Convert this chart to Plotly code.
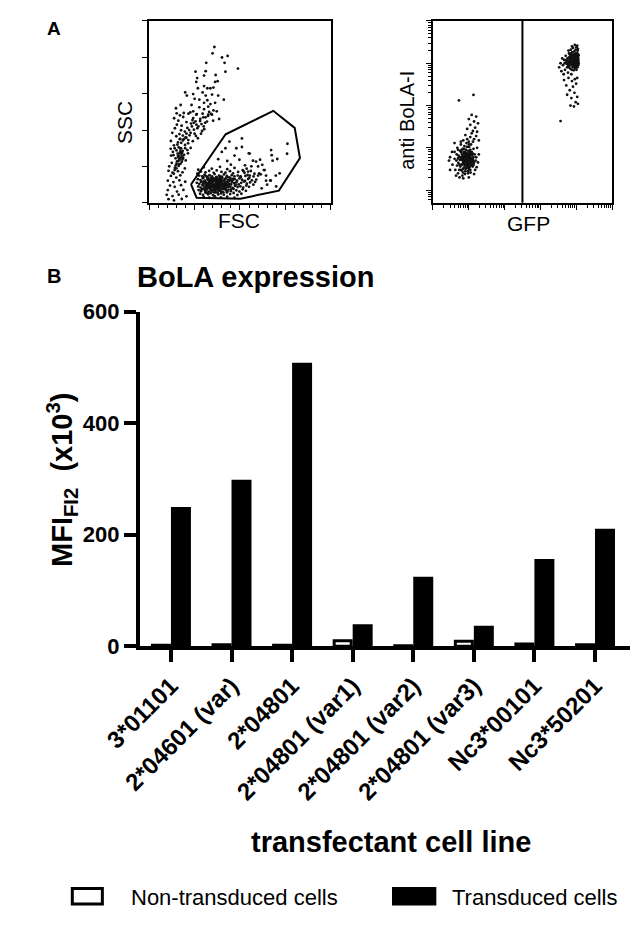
import plotly.graph_objects as go

# ---- panel A (left): FSC / SSC dot plot ----
debris = [
    (359, 857), (349, 822), (401, 799), (432, 808), (415, 770), (489, 738), (420, 721), (314, 770),
    (255, 721), (311, 724), (366, 703), (302, 700), (264, 686), (259, 665), (377, 669), (363, 665),
    (320, 630), (268, 630), (302, 642), (337, 630), (354, 634), (198, 607), (242, 598), (294, 607),
    (311, 590), (346, 595), (380, 590), (207, 590), (411, 567), (276, 567), (250, 572), (320, 564),
    (302, 550), (337, 543), (363, 550), (173, 538), (147, 520), (233, 538), (276, 525), (302, 515),
    (325, 529), (354, 508), (372, 503), (242, 503), (216, 490), (190, 494), (259, 485), (294, 490),
    (325, 485), (346, 485),
    (151, 492), (169, 481), (226, 497), (262, 488), (298, 470), (341, 489), (137, 465), (187, 472),
    (238, 455), (281, 462), (324, 478), (160, 452), (205, 444), (255, 448), (308, 440), (352, 452),
    (318, 447), (385, 461), (152, 430), (178, 424), (230, 436), (271, 420), (288, 433), (242, 466),
    (141, 410), (175, 399), (210, 412), (246, 402), (291, 395), (303, 405), (127, 385), (166, 378),
    (196, 392), (222, 371), (268, 355), (149, 366), (171, 352), (204, 358), (257, 368), (119, 340),
    (158, 332), (185, 343), (214, 327), (240, 339), (136, 316), (162, 305), (197, 318), (228, 302),
    (118, 297), (150, 288), (171, 299), (184, 285), (168, 276), (177, 268), (181, 256), (133, 262),
    (156, 271), (192, 264), (213, 272), (187, 247), (166, 236), (179, 226), (145, 245), (161, 249),
    (183, 238), (201, 233), (124, 220), (153, 228), (172, 215), (110, 201), (141, 192), (162, 203),
    (196, 189), (106, 176), (128, 166), (158, 174), (183, 168), (119, 148), (149, 139), (171, 151),
    (102, 122), (133, 114), (166, 124), (198, 116), (114, 95), (140, 88), (175, 97), (102, 70),
    (153, 62), (188, 71), (96, 44), (128, 37), (162, 45), (205, 36), (106, 20), (136, 13), (179, 21),
    (172, 285), (175, 300), (165, 260), (170, 245), (160, 230), (150, 215), (163, 212), (178, 250),
    (181, 275), (158, 258), (145, 205), (140, 180), (135, 160), (150, 190), (176, 330), (190, 350),
    (205, 380), (220, 400), (235, 420), (245, 440), (260, 430), (200, 360), (215, 345), (228, 385),
    (265, 410), (280, 450), (300, 420), (310, 470), (330, 500), (285, 380), (250, 380), (140, 300),
    (130, 280), (120, 260), (155, 320), (168, 350), (185, 370), (198, 300), (210, 290),
]

cells = [
    (300, 195), (345, 188), (390, 198), (430, 185), (470, 192), (515, 180), (270, 182), (560, 175),
    (285, 172), (310, 168), (330, 176), (355, 165), (372, 178), (398, 170), (420, 166), (445, 174),
    (462, 162), (490, 170), (525, 165), (545, 172), (580, 160), (265, 160),
    (275, 150), (292, 145), (305, 155), (318, 142), (332, 152), (346, 146), (360, 158), (371, 141),
    (385, 150), (400, 144), (412, 156), (428, 148), (440, 140), (455, 152), (470, 145), (488, 150),
    (505, 142), (530, 148), (552, 138), (575, 145), (600, 150),
    (268, 130), (282, 125), (296, 135), (307, 122), (320, 132), (331, 126), (343, 138), (352, 121),
    (364, 130), (376, 124), (388, 136), (397, 127), (409, 121), (420, 133), (433, 126), (446, 137),
    (458, 124), (471, 130), (484, 122), (497, 134), (512, 127), (528, 120), (545, 131), (566, 124),
    (590, 128),
    (262, 110), (276, 104), (289, 116), (300, 107), (311, 113), (322, 102), (333, 118), (341, 106),
    (350, 112), (359, 101), (368, 116), (377, 108), (386, 103), (395, 114), (404, 106), (414, 118),
    (423, 101), (434, 111), (445, 104), (456, 116), (468, 108), (480, 113), (493, 102), (507, 110),
    (522, 117), (538, 105), (556, 112), (574, 100),
    (270, 90), (283, 84), (294, 96), (304, 88), (314, 93), (323, 82), (331, 98), (339, 87),
    (347, 92), (355, 81), (363, 95), (371, 86), (379, 91), (387, 83), (396, 97), (405, 88),
    (414, 93), (424, 84), (435, 96), (447, 89), (460, 82), (473, 94), (487, 87), (502, 91),
    (518, 84), (535, 95), (550, 88),
    (272, 70), (285, 64), (297, 76), (308, 67), (318, 73), (328, 62), (337, 78), (346, 68),
    (355, 74), (364, 63), (373, 77), (382, 66), (391, 72), (401, 61), (412, 75), (424, 68),
    (437, 73), (450, 64), (465, 77), (480, 69), (497, 62), (515, 74), (533, 66),
    (280, 50), (296, 44), (310, 56), (324, 47), (338, 53), (352, 42), (366, 58), (380, 46),
    (395, 52), (411, 45), (428, 57), (446, 48), (465, 54), (486, 43), (508, 50),
    (300, 32), (330, 28), (362, 36), (395, 30), (430, 34), (470, 28),
    (326, 110), (344, 97), (358, 125), (372, 100), (386, 118), (338, 72), (352, 88), (366, 104),
    (380, 76), (394, 92), (318, 85), (332, 115), (347, 128), (361, 80), (375, 135), (389, 110),
    (403, 78), (312, 100), (327, 93), (341, 120), (356, 70), (370, 93), (384, 128), (398, 101),
    (308, 78), (323, 126), (369, 73), (383, 99), (397, 121), (411, 89),
    (303, 118), (315, 96), (326, 138), (335, 84), (342, 109), (349, 133), (357, 94), (363, 119),
    (369, 141), (374, 83), (381, 113), (388, 95), (393, 131), (401, 108), (407, 84), (415, 127),
    (422, 99), (429, 115), (436, 87), (443, 122), (451, 101), (461, 131), (476, 98), (310, 61),
    (321, 54), (344, 60), (359, 57), (377, 56), (392, 66), (408, 58), (419, 80), (431, 62),
    (452, 74), (299, 142), (314, 147), (329, 105), (353, 99), (378, 120), (389, 144), (403, 137),
    (417, 108), (426, 140), (439, 103), (448, 131), (290, 75), (296, 102), (286, 115), (334, 90),
    (346, 115), (365, 85), (392, 79), (410, 100), (366, 127), (340, 130), (317, 108), (355, 135),
    (383, 87), (398, 112), (420, 90),
    (511, 354), (549, 272), (497, 237), (762, 325), (672, 290), (675, 262), (706, 241), (680, 232),
    (611, 237), (589, 227), (572, 232), (623, 209), (636, 180), (615, 157), (644, 150), (698, 150),
    (670, 122), (644, 122), (584, 115), (511, 307), (537, 188), (554, 150), (528, 206), (563, 201),
    (542, 153), (520, 174), (503, 145), (442, 337), (554, 271), (719, 162), (667, 124), (632, 180),
    (606, 162), (470, 260), (430, 230), (400, 280), (450, 210), (380, 240), (600, 200), (650, 100),
    (700, 90), (620, 80), (480, 300), (420, 300), (760, 270),
]

gate_fsc = [230, 421, 684, 802, 831, 715, 503, 261, 230]
gate_ssc = [101, 377, 506, 412, 246, 67, 23, 28, 101]

# ---- panel A (right): GFP / anti BoLA-I ----
gfp_negative = [
    (13.5, 178), (5.3, 132), (12, 60), (16, 55), (10, 48), (14, 42), (18, 38), (11, 35), (15, 30),
    (9, 28), (13, 25), (17, 24), (12, 22), (8, 20), (16, 19), (11, 18), (14, 16), (19, 15), (7, 15),
    (10, 14),
    (3, 6), (3.5, 4), (4, 8), (4.2, 3), (4.5, 5), (4.8, 10), (5, 2.5), (5.2, 6.5), (5.5, 4), (5.7, 8.5),
    (6, 3), (6, 12), (6.2, 5.2), (6.5, 7), (6.6, 2.2), (6.8, 9.5), (7, 4.5), (7.1, 6), (7.3, 3.4),
    (7.5, 11), (7.6, 5), (7.8, 7.5), (8, 2.8), (8, 6.2), (8.2, 4), (8.3, 9), (8.5, 5.5), (8.6, 13),
    (8.8, 3.5), (9, 7), (9.1, 4.8), (9.3, 6), (9.5, 2.5), (9.6, 8.5), (9.8, 5), (10, 3.8), (10.2, 10.5),
    (10.4, 6.5), (10.6, 4.5), (10.8, 7.8), (11, 3), (11.3, 5.8), (11.5, 12), (11.8, 4.2), (12, 8),
    (12.4, 6.8), (12.8, 3.6), (13, 5), (13.5, 9.5), (14, 4.5), (14.5, 7), (15, 3), (16, 6), (17, 10),
    (18, 4.5), (4, 5.5), (4.6, 7), (5, 9), (5.4, 3), (5.9, 6), (6.3, 4), (6.8, 5), (7.2, 8), (7.7, 3.8),
    (8.1, 5), (8.4, 7), (8.9, 4.5), (9.2, 5.5), (9.7, 6.8), (10.1, 4.2), (10.5, 5.6), (11, 9), (11.6, 5),
    (12.2, 4), (12.6, 7.5), (13.4, 6), (7, 5.5), (7.9, 6.6), (8.7, 6), (9.4, 4), (10.3, 8), (6.4, 9),
    (5.6, 5.2), (9.9, 3.2), (8.2, 3.2), (6.9, 2.6), (11.2, 2.6), (4.4, 2.2), (3.4, 8), (2.8, 5),
    (15.5, 5), (19, 7), (13, 14), (9, 16), (6, 14), (4, 13), (5.5, 2), (10, 2), (14, 2.4), (7, 1.9),
    (3, 3), (16.5, 3.5),
    (5.1, 4.4), (5.4, 6.1), (5.8, 3.6), (6.1, 7.8), (6.3, 5.6), (6.6, 4.1), (6.7, 6.4), (7, 3.2),
    (7.2, 5), (7.4, 7), (7.5, 4.2), (7.7, 6.1), (7.9, 4.6), (8, 8), (8.2, 5.4), (8.4, 3.9), (8.5, 6.6),
    (8.7, 4.9), (8.9, 7.4), (9, 3.4), (9.2, 6.2), (9.3, 4.3), (9.5, 5.3), (9.7, 3.7), (9.9, 6.1),
    (10, 4.9), (10.2, 7.2), (10.4, 3.5), (10.7, 5.2), (10.9, 6.1), (11.1, 4.4), (11.4, 7), (11.7, 3.8),
    (12, 5.6), (12.3, 4.7), (7.3, 9.5), (8.8, 10.5), (10, 12), (6, 8.5), (5, 5.6), (4.7, 3.8),
    (6.4, 2.9), (9.6, 2.8), (12.8, 5.4), (13.6, 4), (7.8, 2.4), (11, 6.7), (8.3, 5.9), (9, 5.2),
    (7.6, 5.8),
]

gfp_positive = [
    (4200, 900), (4500, 1200), (4800, 700), (5000, 1500), (5200, 1000), (5500, 800), (5600, 1300),
    (5800, 600), (6000, 1100), (6200, 1700), (6300, 900), (6500, 1400), (6700, 750), (6800, 1050),
    (7000, 1250), (7200, 550), (7300, 1600), (7500, 950), (7700, 1150), (7900, 800), (8000, 1450),
    (8200, 1000), (8400, 680), (8500, 1250), (8700, 1900), (8800, 880), (9000, 1100), (9200, 1550),
    (9300, 760), (9500, 1300), (9600, 980), (9800, 1700), (10000, 1150), (10200, 850), (10400, 1400),
    (10600, 1050), (10800, 2000), (11000, 1250), (11200, 900), (11400, 1550), (5300, 1200), (5900, 850),
    (6400, 1200), (6900, 1500), (7400, 700), (7800, 1350), (8300, 1150), (8900, 1350), (9400, 1050),
    (9900, 1250), (10500, 1650), (11100, 1050), (6100, 1000), (7100, 1000), (8100, 1250), (9100, 900),
    (10100, 1000), (10900, 1450), (6600, 1600), (7600, 1800), (8600, 1500), (9700, 1450), (4700, 1000),
    (5700, 1050), (4000, 1300), (3600, 1000), (3300, 800), (3800, 650), (4400, 550),
    (9000, 2700), (10000, 2400), (11000, 2200), (8000, 2300), (7000, 2100), (9500, 2100), (6000, 2000),
    (10500, 2600), (7500, 2500),
    (4500, 400), (6000, 450), (7500, 380), (9000, 420), (10500, 450), (5200, 300), (8000, 280),
    (9800, 330), (6500, 230), (8800, 200), (10500, 160), (7200, 150), (5500, 180), (11000, 110),
    (9500, 120), (8500, 95), (6800, 100), (3600, 43),
    (6200, 800), (6500, 1050), (6800, 1300), (7000, 900), (7300, 1150), (7600, 1000), (7900, 1250),
    (8100, 850), (8400, 1350), (8600, 1050), (8900, 1200), (9100, 780), (9300, 1450), (9600, 1150),
    (9900, 880), (10100, 1300), (10300, 1100), (10600, 1250), (10900, 950), (11200, 1350),
    (11300, 1150), (11400, 1000), (10700, 800), (9800, 1550), (8700, 1650), (7700, 1500), (6900, 1700),
    (6100, 1350), (5600, 950), (5100, 1150), (7200, 1300), (8200, 1550), (9400, 850), (10400, 1750),
    (11000, 1650), (8000, 1050), (9000, 1500), (10000, 700), (7500, 1200), (8500, 900),
]

gfp_gate = 312

# ---- panel B: BoLA expression ----
cell_lines = ["3*01101", "2*04601 (var)", "2*04801", "2*04801 (var1)", "2*04801 (var2)",
              "2*04801 (var3)", "Nc3*00101", "Nc3*50201"]
non_transduced = [2, 3, 2, 10, 1, 9, 4, 3]
transduced = [247, 296, 506, 37, 122, 34, 154, 208]

# the page body adds an 8 px margin, so the figure is 16 px smaller than the
# window and positions below are given in window pixels
W, H = 625, 910
OFF = 8
FONT = "Liberation Sans, Arial, sans-serif"


def px(x):
    return min(1, max(0, (x - OFF) / W))


def py(y):
    return min(1, max(0, 1 - (y - OFF) / H))


fig = go.Figure()

dot = dict(size=2.8, color="#111111")
fig.add_trace(go.Scatter(x=[p[0] for p in debris], y=[p[1] for p in debris], mode="markers",
                         marker=dot, xaxis="x", yaxis="y"))
fig.add_trace(go.Scatter(x=[p[0] for p in cells], y=[p[1] for p in cells], mode="markers",
                         marker=dot, xaxis="x", yaxis="y"))
fig.add_trace(go.Scatter(x=gate_fsc, y=gate_ssc, mode="lines", line=dict(color="black", width=2),
                         xaxis="x", yaxis="y"))

fig.add_trace(go.Scatter(x=[p[0] for p in gfp_negative], y=[p[1] for p in gfp_negative],
                         mode="markers", marker=dot, xaxis="x2", yaxis="y2"))
fig.add_trace(go.Scatter(x=[p[0] for p in gfp_positive], y=[p[1] for p in gfp_positive],
                         mode="markers", marker=dot, xaxis="x2", yaxis="y2"))

fig.add_trace(go.Bar(x=cell_lines, y=non_transduced, name="Non-transduced cells",
                     marker=dict(color="white", line=dict(color="black", width=3)),
                     xaxis="x3", yaxis="y3"))
fig.add_trace(go.Bar(x=cell_lines, y=transduced, name="Transduced cells",
                     marker=dict(color="black", line=dict(color="black", width=3)),
                     xaxis="x3", yaxis="y3"))

box = dict(showline=True, linecolor="black", linewidth=2, mirror=True, showgrid=False,
           zeroline=False, showticklabels=False, ticks="outside", tickcolor="black")

fig.update_layout(
    width=W, height=H, margin=dict(l=0, r=0, t=0, b=0),
    paper_bgcolor="white", plot_bgcolor="white", showlegend=False,
    font=dict(family=FONT, color="black"),
    barmode="group", bargap=0.34, bargroupgap=0.15,
    xaxis=dict(box, domain=[px(118), px(311)], range=[0, 1000], dtick=250, ticklen=5, tickwidth=1,
               anchor="y", minor=dict(ticks="outside", dtick=50, ticklen=3, tickcolor="black")),
    yaxis=dict(box, domain=[py(196), py(9)], range=[0, 1000], dtick=200, ticklen=5, tickwidth=1,
               anchor="x"),
    xaxis2=dict(box, type="log", domain=[px(420), px(611)], range=[0, 5], dtick=1, ticklen=5,
                tickwidth=1, anchor="y2",
                minor=dict(ticks="outside", ticklen=3, tickcolor="black")),
    yaxis2=dict(box, type="log", domain=[py(196), py(9)], range=[-0.3, 4], dtick=1, ticklen=5,
                tickwidth=1, anchor="x2",
                minor=dict(ticks="outside", ticklen=3, tickcolor="black")),
    xaxis3=dict(domain=[px(108), px(630)], range=[-0.512, 7.581], showline=True, linecolor="black",
                linewidth=4, showgrid=False, zeroline=False, ticks="outside", ticklen=12,
                tickwidth=4, tickcolor="black", tickangle=-45,
                tickfont=dict(size=24, weight="bold", family=FONT), anchor="y3"),
    yaxis3=dict(domain=[py(652), py(308)], range=[0, 600], tickvals=[0, 200, 400, 600],
                showline=True, linecolor="black", linewidth=4, showgrid=False, zeroline=False,
                ticks="outside", ticklen=12, tickwidth=4, tickcolor="black",
                tickfont=dict(size=22, weight="bold", family=FONT), anchor="x3"),
)

fig.add_shape(type="line", xref="x2", yref="y2 domain", x0=gfp_gate, x1=gfp_gate, y0=0, y1=1,
              line=dict(color="black", width=2))

notes = [
    ("A", 16, 17, 19, "bold", 0, "center"),
    ("SSC", 91, 113, 21, "normal", -90, "center"),
    ("FSC", 213, 214, 21, "normal", 0, "center"),
    ("anti BoLA-I", 393, 111, 20, "normal", -90, "center"),
    ("GFP", 522, 217, 21, "normal", 0, "center"),
    ("B", 16, 271, 20, "bold", 0, "center"),
    ("BoLA expression", 103, 272, 29, "bold", 0, "left"),
    ("MFI<sub>FI2</sub>  (x10<sup>3</sup>)", 25, 481, 29, "bold", -90, "center"),
    ("transfectant cell line", 375, 853, 29, "bold", 0, "center"),
    ("Non-transduced cells", 96, 910, 22, "normal", 0, "left"),
    ("Transduced cells", 438, 910, 22, "normal", 0, "left"),
]
for text, x, y, size, weight, angle, anchor in notes:
    fig.add_annotation(text=text, x=px(x), y=py(y), xref="paper", yref="paper", showarrow=False,
                       xanchor=anchor, yanchor="middle", textangle=angle,
                       font=dict(size=size, weight=weight, family=FONT, color="black"))

# legend keys
fig.add_shape(type="rect", xref="paper", yref="paper", x0=px(36), x1=px(68), y0=py(917), y1=py(901),
              fillcolor="white", line=dict(color="black", width=3))
fig.add_shape(type="rect", xref="paper", yref="paper", x0=px(378), x1=px(422), y0=py(917), y1=py(901),
              fillcolor="black", line=dict(color="black", width=3))

fig.write_html("out.html")
